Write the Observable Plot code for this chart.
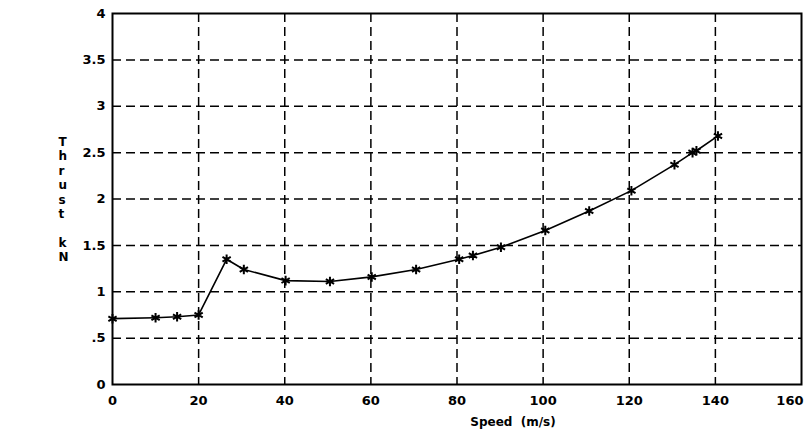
<!DOCTYPE html>
<html>
<head>
<meta charset="utf-8">
<script src="https://cdn.jsdelivr.net/npm/d3@7"></script>
<script src="https://cdn.jsdelivr.net/npm/@observablehq/plot@0.6"></script>
<style>
  html, body { margin: 0; padding: 0; background: #fff; }
  svg { display: block; }
</style>
</head>
<body>
<div id="chart"></div>
<script>
const speed  = [0, 10, 15, 20, 26.5, 30.5, 40.2, 50.5, 60.2, 70.5, 80.5, 83.7, 90.2, 100.5, 110.7, 120.5, 130.5, 134.7, 135.6, 140.6];
const thrust = [0.71, 0.72, 0.73, 0.75, 1.35, 1.24, 1.12, 1.11, 1.16, 1.24, 1.35, 1.39, 1.48, 1.66, 1.87, 2.09, 2.37, 2.50, 2.52, 2.68];
const xTicks = [0, 20, 40, 60, 80, 100, 120, 140];
const xTickLast = [160];
const yTicks = [0, 0.5, 1, 1.5, 2, 2.5, 3, 3.5, 4];
const yTickLabels = ["0", ".5", "1", "1.5", "2", "2.5", "3", "3.5", "4"];
const xGrid = [20, 40, 60, 80, 100, 120, 140];
const yGrid = [0.5, 1, 1.5, 2, 2.5, 3, 3.5];
const xLabel = "Speed  (m/s)";
const yLabel = "T\nh\nr\nu\ns\nt\n\nk\nN";

const data = speed.map((s, i) => ({speed: s, thrust: thrust[i]}));

const chart = Plot.plot({
  width: 806,
  height: 442,
  marginLeft: 112,
  marginRight: 5,
  marginTop: 13,
  marginBottom: 58,
  style: {fontFamily: "DejaVu Sans", fontSize: "13px", fontWeight: "bold", color: "black", background: "white"},
  x: {domain: [0, 160]},
  y: {domain: [0, 4]},
  marks: [
    Plot.ruleX(xGrid, {stroke: "black", strokeWidth: 1.5, strokeDasharray: "9,5"}),
    Plot.ruleY(yGrid, {stroke: "black", strokeWidth: 1.5, strokeDasharray: "9,5"}),
    Plot.frame({stroke: "black", strokeWidth: 2}),
    Plot.line(data, {x: "speed", y: "thrust", stroke: "black", strokeWidth: 1.6}),
    Plot.dot(data, {x: "speed", y: "thrust", symbol: "asterisk", r: 4.5, stroke: "black", strokeWidth: 2}),
    Plot.axisX({ticks: xTicks, tickSize: 0, tickPadding: 11, label: null, fontSize: 13}),
    Plot.axisX({ticks: xTickLast, tickSize: 0, tickPadding: 11, label: null, fontSize: 13, textAnchor: "end", dx: 2}),
    Plot.axisY({ticks: yTicks, tickSize: 0, tickPadding: 7, label: null, tickFormat: (d) => yTickLabels[yTicks.indexOf(d)], fontSize: 13}),
    Plot.text([xLabel], {frameAnchor: "bottom", dx: 56, dy: 41, text: (d) => d, fontSize: 12, fontWeight: "bold"}),
    Plot.text([yLabel], {frameAnchor: "left", dx: -54, text: (d) => d, fontSize: 12, lineHeight: 1.2, fontWeight: "bold"})
  ]
});
document.getElementById("chart").appendChild(chart);
</script>
</body>
</html>
